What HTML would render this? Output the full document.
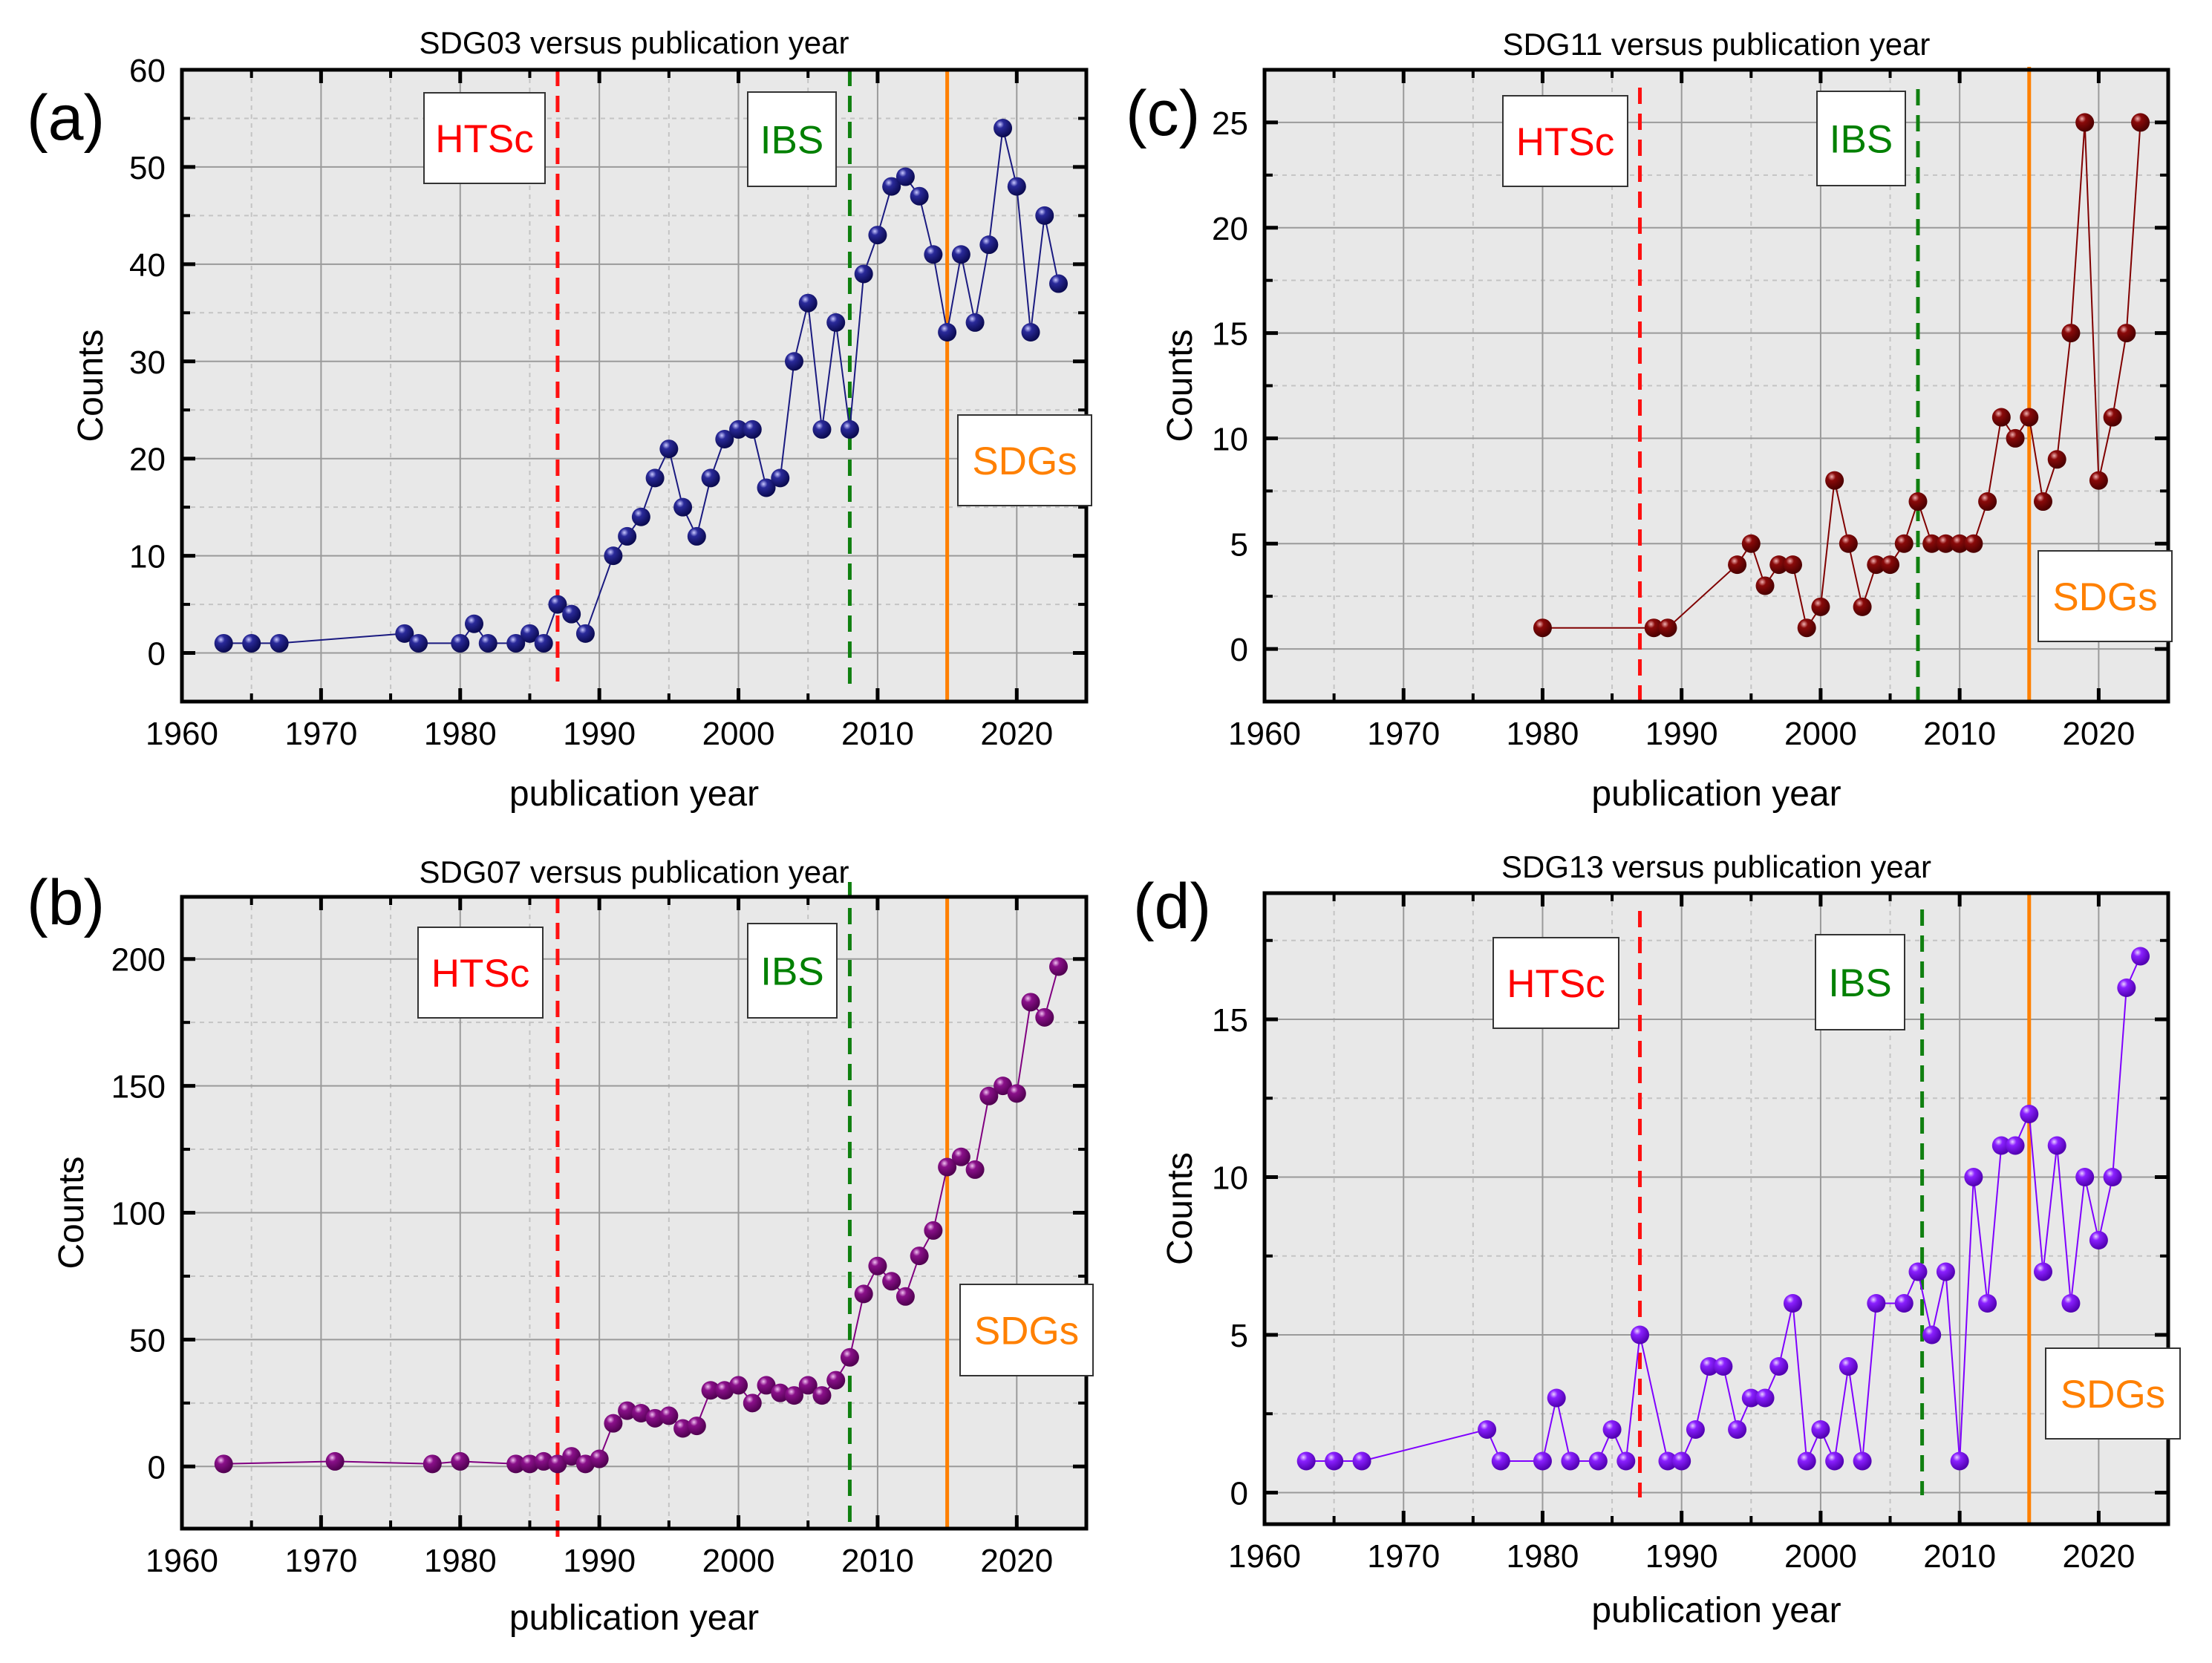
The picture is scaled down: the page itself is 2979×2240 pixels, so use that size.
<!DOCTYPE html>
<html>
<head>
<meta charset="utf-8">
<style>
  html,body{margin:0;padding:0;background:#fff;}
  svg{display:block;font-family:"Liberation Sans",Arial,sans-serif;}
</style>
</head>
<body>
<svg id="fig" width="2979" height="2240" viewBox="0 0 2979 2240" xmlns="http://www.w3.org/2000/svg">
  <defs>
    <radialGradient id="g-a" cx="35%" cy="30%" r="70%"><stop offset="0" stop-color="#c8c8ff"/><stop offset="0.3" stop-color="#2a2a9a"/><stop offset="1" stop-color="#0a0a50"/></radialGradient>
    <radialGradient id="g-b" cx="35%" cy="30%" r="70%"><stop offset="0" stop-color="#f0c0f0"/><stop offset="0.3" stop-color="#8a108a"/><stop offset="1" stop-color="#500050"/></radialGradient>
    <radialGradient id="g-c" cx="35%" cy="30%" r="70%"><stop offset="0" stop-color="#f0b0b0"/><stop offset="0.3" stop-color="#8a0a0a"/><stop offset="1" stop-color="#4a0000"/></radialGradient>
    <radialGradient id="g-d" cx="35%" cy="30%" r="70%"><stop offset="0" stop-color="#e8d0ff"/><stop offset="0.3" stop-color="#8a20ff"/><stop offset="1" stop-color="#5000b0"/></radialGradient>
  </defs>
</svg>
<script>
// ---- Panel (a) SDG03 ----
const yearsA = [1963,1965,1967,1976,1977,1980,1981,1982,1984,1985,1986,1987,1988,1989,1991,1992,1993,1994,1995,1996,1997,1998,1999,2000,2001,2002,2003,2004,2005,2006,2007,2008,2009,2010,2011,2012,2013,2014,2015,2016,2017,2018,2019,2020,2021,2022,2023];
const countsA = [1,1,1,2,1,1,3,1,1,2,1,5,4,2,10,12,14,18,21,15,12,18,22,23,23,17,18,30,36,23,34,23,39,43,48,49,47,41,33,41,34,42,54,48,33,45,38];
const yTicksA = [0,10,20,30,40,50,60];
// ---- Panel (b) SDG07 ----
const yearsB = [1963,1971,1978,1980,1984,1985,1986,1987,1988,1989,1990,1991,1992,1993,1994,1995,1996,1997,1998,1999,2000,2001,2002,2003,2004,2005,2006,2007,2008,2009,2010,2011,2012,2013,2014,2015,2016,2017,2018,2019,2020,2021,2022,2023];
const countsB = [1,2,1,2,1,1,2,1,4,1,3,17,22,21,19,20,15,16,30,30,32,25,32,29,28,32,28,34,43,68,79,73,67,83,93,118,122,117,146,150,147,183,177,197];
const yTicksB = [0,50,100,150,200];
// ---- Panel (c) SDG11 ----
const yearsC = [1980,1988,1989,1994,1995,1996,1997,1998,1999,2000,2001,2002,2003,2004,2005,2006,2007,2008,2009,2010,2011,2012,2013,2014,2015,2016,2017,2018,2019,2020,2021,2022,2023];
const countsC = [1,1,1,4,5,3,4,4,1,2,8,5,2,4,4,5,7,5,5,5,5,7,11,10,11,7,9,15,25,8,11,15,25];
const yTicksC = [0,5,10,15,20,25];
// ---- Panel (d) SDG13 ----
const yearsD = [1963,1965,1967,1976,1977,1980,1981,1982,1984,1985,1986,1987,1989,1990,1991,1992,1993,1994,1995,1996,1997,1998,1999,2000,2001,2002,2003,2004,2006,2007,2008,2009,2010,2011,2012,2013,2014,2015,2016,2017,2018,2019,2020,2021,2022,2023];
const countsD = [1,1,1,2,1,1,3,1,1,2,1,5,1,1,2,4,4,2,3,3,4,6,1,2,1,4,1,6,6,7,5,7,1,10,6,11,11,12,7,11,6,10,8,10,16,17];
const yTicksD = [0,5,10,15];
const xTicks = [1960,1970,1980,1990,2000,2010,2020];
const eventYearsAB = [1987, 2008, 2015];
const eventYearsC = [1987, 2007, 2015];
const eventYearsD = [1987, 2007.3, 2015];

const NS = "http://www.w3.org/2000/svg";
const svg = document.getElementById('fig');
function el(tag, attrs, parent){
  const e = document.createElementNS(NS, tag);
  for (const k in attrs) e.setAttribute(k, attrs[k]);
  (parent||svg).appendChild(e);
  return e;
}

const panels = [
  {id:'a', letter:'(a)', title:'SDG03 versus publication year', years:yearsA, counts:countsA, yTicks:yTicksA, yMinor:5,
   box:[245,1463,94,945], ydom:[-5,60], color:'#1a1a80', events:eventYearsAB,
   labelPos:[36,188], titleY:72, xTitleY:1085, yTitleX:138,
   evSpan:[[94,918],[94,925],[94,945]],
   boxes:{htsc:[571,125,163,122], ibs:[1007,124,119,127], sdgs:[1290,559,180,122]}},
  {id:'b', letter:'(b)', title:'SDG07 versus publication year', years:yearsB, counts:countsB, yTicks:yTicksB, yMinor:25,
   box:[245,1463,1208,2059], ydom:[-24.5,224.5], color:'#800080', events:eventYearsAB,
   labelPos:[36,1245], titleY:1189, xTitleY:2195, yTitleX:112,
   evSpan:[[1208,2075],[1188,2050],[1208,2059]],
   boxes:{htsc:[563,1249,168,122], ibs:[1007,1244,120,127], sdgs:[1293,1730,179,123]}},
  {id:'c', letter:'(c)', title:'SDG11 versus publication year', years:yearsC, counts:countsC, yTicks:yTicksC, yMinor:2.5,
   box:[1703,2920,94,945], ydom:[-2.5,27.5], color:'#800000', events:eventYearsC,
   labelPos:[1516,182], titleY:74, xTitleY:1085, yTitleX:1605,
   evSpan:[[118,945],[120,945],[90,945]],
   boxes:{htsc:[2024,129,168,122], ibs:[2447,123,119,127], sdgs:[2745,742,180,122]}},
  {id:'d', letter:'(d)', title:'SDG13 versus publication year', years:yearsD, counts:countsD, yTicks:yTicksD, yMinor:2.5,
   box:[1703,2920,1203,2053], ydom:[-1,19], color:'#7f00ff', events:eventYearsD,
   labelPos:[1526,1250], titleY:1182, xTitleY:2185, yTitleX:1605,
   evSpan:[[1227,2017],[1225,2014],[1203,2053]],
   boxes:{htsc:[2011,1263,169,122], ibs:[2445,1259,120,128], sdgs:[2755,1816,181,122]}}
];

panels.forEach(p => {
  const [x0,x1,y0,y1] = p.box;
  const xs = v => x0 + (v-1960)/(2025-1960)*(x1-x0);
  const ys = v => y1 - (v-p.ydom[0])/(p.ydom[1]-p.ydom[0])*(y1-y0);
  const g = el('g', {});
  
  

  const bg = el('rect', {x:x0, y:y0, width:x1-x0, height:y1-y0, fill:'#e8e8e8'}, g);
  
  

  for (let yr=1965; yr<2025; yr+=10){
    const l = el('line', {x1:xs(yr), x2:xs(yr), y1:y0, y2:y1, stroke:'#c4c4c4', 'stroke-width':2, 'stroke-dasharray':'6,6'}, g);
    
    
  }
  const step = p.yTicks[1]-p.yTicks[0];
  for (let v=p.yTicks[0]-p.yMinor; v<=p.ydom[1]; v+=p.yMinor){
    if (v <= p.ydom[0] || Math.abs(v/step - Math.round(v/step))<1e-6) continue;
    const l = el('line', {x1:x0, x2:x1, y1:ys(v), y2:ys(v), stroke:'#c4c4c4', 'stroke-width':2, 'stroke-dasharray':'6,6'}, g);
    
    
    const tl = el('line', {x1:x0, x2:x0+11, y1:ys(v), y2:ys(v), stroke:'#000', 'stroke-width':4}, g);
    
    
    const tr = el('line', {x1:x1, x2:x1-11, y1:ys(v), y2:ys(v), stroke:'#000', 'stroke-width':4}, g);
    
    
  }
  xTicks.forEach(yr => {
    const l = el('line', {x1:xs(yr), x2:xs(yr), y1:y0, y2:y1, stroke:'#9a9a9a', 'stroke-width':2}, g);
    
    
    const t = el('text', {x:xs(yr), y:y1+58, 'font-size':44, 'text-anchor':'middle', fill:'#000'}, g);
    t.textContent = yr;
    
    
    [[y1, y1-18],[y0, y0+18]].forEach(([a,b]) => {
      const tk = el('line', {x1:xs(yr), x2:xs(yr), y1:a, y2:b, stroke:'#000', 'stroke-width':5}, g);
      
      
    });
  });
  for (let yr=1965; yr<2025; yr+=10){
    [[y1, y1-11],[y0, y0+11]].forEach(([a,b]) => {
      const tk = el('line', {x1:xs(yr), x2:xs(yr), y1:a, y2:b, stroke:'#000', 'stroke-width':4}, g);
      
      
    });
  }
  p.yTicks.forEach(v => {
    const l = el('line', {x1:x0, x2:x1, y1:ys(v), y2:ys(v), stroke:'#9a9a9a', 'stroke-width':2}, g);
    
    
    const t = el('text', {x:x0-22, y:ys(v)+16, 'font-size':44, 'text-anchor':'end', fill:'#000'}, g);
    t.textContent = v;
    
    
    [[x0, x0+18],[x1, x1-18]].forEach(([a,b]) => {
      const tk = el('line', {x1:a, x2:b, y1:ys(v), y2:ys(v), stroke:'#000', 'stroke-width':5}, g);
      
      
    });
  });

  const evColors = ['#ff1010','#108010','#ff8000'];
  const evNames = ['htsc-line','ibs-line','sdgs-line'];
  p.events.forEach((yr, i) => {
    const attrs = {x1:xs(yr), x2:xs(yr), y1:p.evSpan[i][0], y2:p.evSpan[i][1], stroke:evColors[i], 'stroke-width':5};
    if (i < 2) attrs['stroke-dasharray'] = '22,13';
    const l = el('line', attrs, g);
    
    
  });

  const pts = p.years.map((yr,i) => xs(yr).toFixed(1)+','+ys(p.counts[i]).toFixed(1)).join(' ');
  const pl = el('polyline', {points:pts, fill:'none', stroke:p.color, 'stroke-width':2}, g);
  
  
  p.years.forEach((yr,i) => {
    const c = el('circle', {cx:xs(yr), cy:ys(p.counts[i]), r:12.5, fill:'url(#g-'+p.id+')'}, g);
    
    
  });

  const fr = el('rect', {x:x0, y:y0, width:x1-x0, height:y1-y0, fill:'none', stroke:'#000', 'stroke-width':5}, g);
  
  

  const ann = [['htsc','HTSc','#ff0000'],['ibs','IBS','#008000'],['sdgs','SDGs','#ff8000']];
  ann.forEach(([k,txt,col]) => {
    const [bx,by,bw,bh] = p.boxes[k];
    const r = el('rect', {x:bx, y:by, width:bw, height:bh, fill:'#fff', stroke:'#333', 'stroke-width':2}, g);
    
    
    const t = el('text', {x:bx+bw/2, y:by+bh/2+19, 'font-size':53, 'text-anchor':'middle', fill:col}, g);
    t.textContent = txt;
    
    
  });

  const tt = el('text', {x:(x0+x1)/2, y:p.titleY, 'font-size':42, 'text-anchor':'middle', fill:'#000'}, g);
  tt.textContent = p.title;
  
  
  const xt = el('text', {x:(x0+x1)/2, y:p.xTitleY, 'font-size':48, 'text-anchor':'middle', fill:'#000'}, g);
  xt.textContent = 'publication year';
  
  
  const ymid = (y0+y1)/2;
  const yt = el('text', {x:p.yTitleX, y:ymid, 'font-size':48, 'text-anchor':'middle', fill:'#000', transform:'rotate(-90 '+p.yTitleX+' '+ymid+')'}, g);
  yt.textContent = 'Counts';
  
  
  const lt = el('text', {x:p.labelPos[0], y:p.labelPos[1], 'font-size':86, fill:'#000'}, g);
  lt.textContent = p.letter;
  
  
});
</script>
</body>
</html>
